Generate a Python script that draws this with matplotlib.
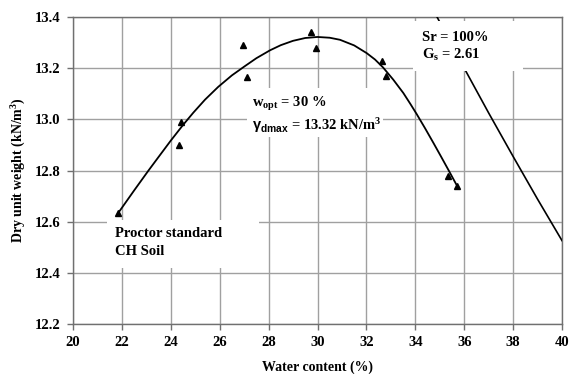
import matplotlib
matplotlib.use("Agg")
import matplotlib.pyplot as plt
from matplotlib.patches import Rectangle

plt.rcParams['font.family'] = ['Liberation Serif', 'DejaVu Serif']
plt.rcParams['font.weight'] = 'bold'
plt.rcParams['mathtext.fontset'] = 'custom'
plt.rcParams['mathtext.rm'] = 'Liberation Serif:bold'
plt.rcParams['mathtext.it'] = 'Liberation Serif:bold'
plt.rcParams['mathtext.bf'] = 'Liberation Serif:bold'
plt.rcParams['mathtext.sf'] = 'Liberation Sans:bold'

# Measured points
water_content = [21.85, 24.34, 24.42, 26.95, 27.12, 29.73, 29.94, 32.64, 32.80, 35.34, 35.72]
dry_unit_weight = [12.634, 12.90, 12.99, 13.29, 13.165, 13.34, 13.28, 13.23, 13.17, 12.78, 12.74]

# Compaction curve
curve_w = [21.85, 22.5, 23.08, 23.5, 24.0, 24.5, 24.92, 25.4, 25.94, 26.5, 27.03, 27.5,
           28.06, 28.5, 29.0, 29.5, 30.0, 30.5, 30.92, 31.5, 32.01, 32.35, 32.68, 33.1,
           33.51, 33.8, 34.06, 34.4, 34.74, 35.05, 35.35, 35.72]
curve_gamma = [12.634, 12.722, 12.799, 12.853, 12.917, 12.978, 13.026, 13.077, 13.127, 13.172,
               13.208, 13.239, 13.270, 13.290, 13.307, 13.318, 13.322, 13.319, 13.311, 13.289,
               13.259, 13.234, 13.203, 13.155, 13.103, 13.060, 13.020, 12.965, 12.908, 12.855,
               12.803, 12.738]

# Saturation line Sr = 100 %
sat_w = [34.89, 35.5, 36.0, 37.0, 38.0, 39.0, 40.0]
sat_gamma = [13.40, 13.29, 13.20, 13.025, 12.855, 12.688, 12.526]

x_ticks = [20, 22, 24, 26, 28, 30, 32, 34, 36, 38, 40]
y_ticks = [12.2, 12.4, 12.6, 12.8, 13.0, 13.2, 13.4]

fig = plt.figure(figsize=(5.69, 3.74), dpi=100)
ax = fig.add_axes([0.1283, 0.1337, 0.8594, 0.8208])

ax.set_xlim(20, 40)
ax.set_ylim(12.2, 13.4)
ax.set_xticks(x_ticks)
ax.set_yticks(y_ticks)
ax.set_yticklabels([f"{v:.1f}" for v in y_ticks])
ax.grid(True, color='#a0a0a0', linewidth=1.0, zorder=0)
ax.set_axisbelow(True)
for s in ax.spines.values():
    s.set_color('#707070')
    s.set_linewidth(1.0)
ax.tick_params(axis='both', direction='out', length=4, width=1, color='#707070',
               labelsize=10.5, pad=5)
for lab in ax.get_xticklabels() + ax.get_yticklabels():
    lab.set_fontweight('bold')

ax.plot(curve_w, curve_gamma, color='black', linewidth=1.3, zorder=3,
        solid_joinstyle='round')
ax.plot(sat_w, sat_gamma, color='black', linewidth=1.2, zorder=3)
ax.plot(water_content, dry_unit_weight, linestyle='none', marker='^', color='black',
        markersize=4.5, zorder=4)

# white label boxes
for (x0, x1, y0, y1) in [(33.91, 38.40, 13.189, 13.384),
                         (27.12, 32.68, 12.931, 13.122),
                         (21.39, 27.61, 12.419, 12.606)]:
    ax.add_patch(Rectangle((x0, y0), x1 - x0, y1 - y0, facecolor='white',
                           edgecolor='none', zorder=5))

fs = 10.5
ax.text(34.27, 13.318, "Sr = 100%", fontsize=fs, fontweight='bold', va='center', zorder=6)
ax.text(34.27, 13.251, r"G$_{\mathrm{s}}$ = 2.61", fontsize=fs, fontweight='bold', va='center', zorder=6)
ax.text(27.32, 13.06, r"w$_{\mathrm{opt}}$ = 30 %", fontsize=fs, fontweight='bold', va='center', zorder=6)
ax.text(27.32, 12.974, r"$\mathsf{γ_{dmax}}$ = 13.32 kN/m$^{\mathrm{3}}$", fontsize=fs,
        fontweight='bold', va='center', zorder=6)
ax.text(21.72, 12.552, "Proctor standard", fontsize=fs, fontweight='bold', va='center', zorder=6)
ax.text(21.72, 12.485, "CH Soil", fontsize=fs, fontweight='bold', va='center', zorder=6)

ax.set_xlabel("Water content (%)", fontsize=10, fontweight='bold', labelpad=8)
ax.set_ylabel(r"Dry unit weight (kN/m$^{\mathrm{3}}$)", fontsize=10, fontweight='bold', labelpad=5)

fig.savefig("out.png", dpi=100)
